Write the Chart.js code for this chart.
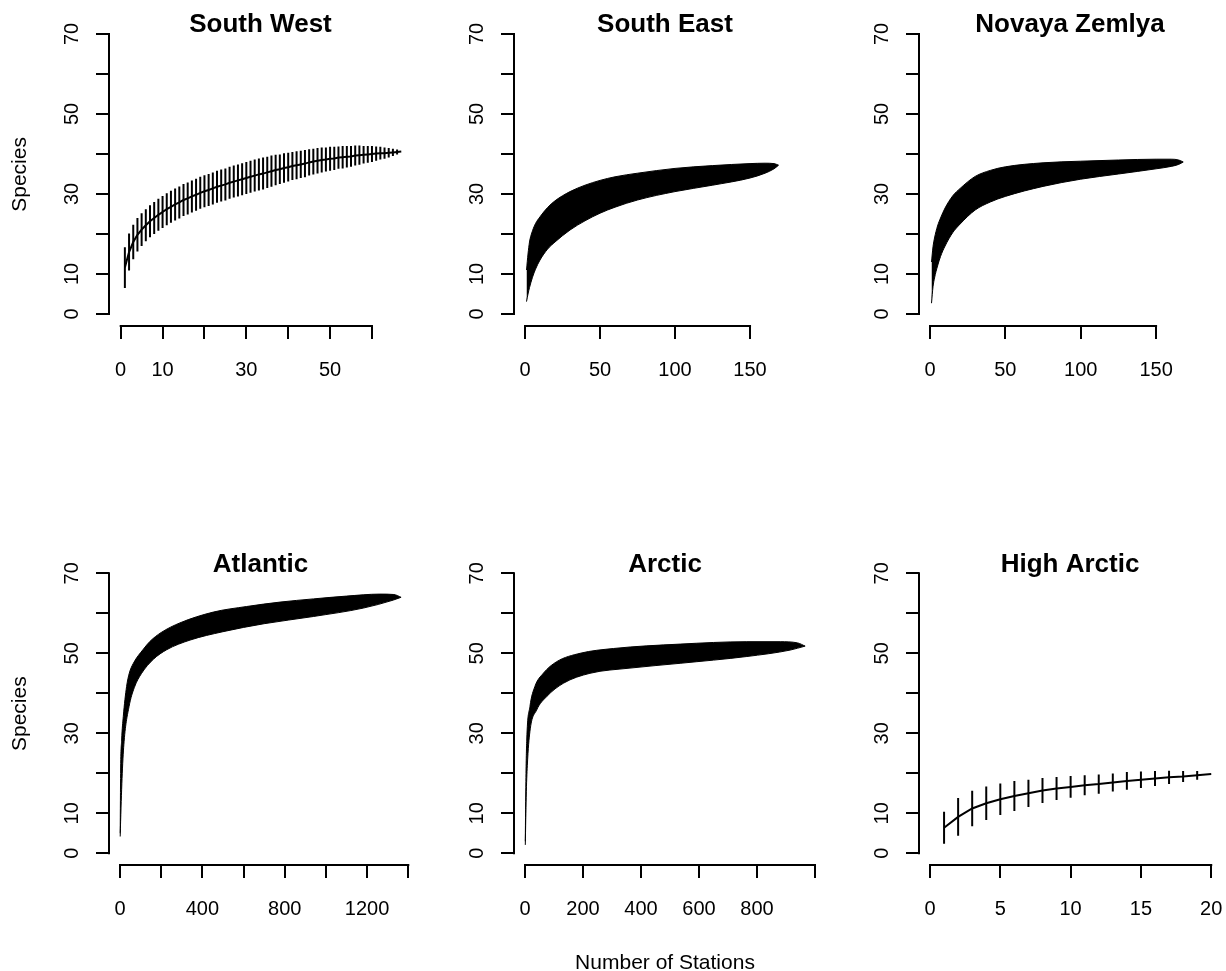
<!DOCTYPE html>
<html>
<head>
<meta charset="utf-8">
<script src="https://cdn.jsdelivr.net/npm/chart.js@4"></script>
<style>
  body { margin: 0; background: #fff; }
  #wrap { position: relative; width: 1226px; height: 971px; }
  #wrap canvas { position: absolute; left: 0; top: 0; }
</style>
</head>
<body>
<div id="wrap"></div>
<script>
// ---- tick labels ----
const yTickValues = [0, 10, 20, 30, 40, 50, 60, 70];
const yTickLabels = ['0', '10', '', '30', '', '50', '', '70'];
const swTickValues = [0, 10, 20, 30, 40, 50, 60];
const swTickLabels = ['0', '10', '', '30', '', '50', ''];
const seTickValues = [0, 50, 100, 150];
const seTickLabels = ['0', '50', '100', '150'];
const atTickValues = [0, 200, 400, 600, 800, 1000, 1200, 1400];
const atTickLabels = ['0', '', '400', '', '800', '', '1200', ''];
const arTickValues = [0, 200, 400, 600, 800, 1000];
const arTickLabels = ['0', '200', '400', '600', '800', ''];
const haTickValues = [0, 5, 10, 15, 20];
const haTickLabels = ['0', '5', '10', '15', '20'];

// ---- South West: mean and sd per station (station = index + 1) ----
const swMean = [11.6, 15.5, 18.0, 19.8, 21.1, 22.2, 23.2, 24.0, 24.8, 25.5,
  26.2, 26.8, 27.4, 27.9, 28.5, 28.9, 29.4, 29.8, 30.3, 30.7,
  31.0, 31.4, 31.8, 32.1, 32.4, 32.8, 33.1, 33.4, 33.7, 34.0,
  34.3, 34.6, 34.9, 35.1, 35.4, 35.7, 36.0, 36.2, 36.5, 36.7,
  37.0, 37.2, 37.4, 37.6, 37.9, 38.1, 38.3, 38.5, 38.6, 38.8,
  38.9, 39.1, 39.2, 39.3, 39.4, 39.6, 39.7, 39.8, 39.9, 40.0,
  40.1, 40.2, 40.2, 40.3, 40.4, 40.5, 40.6];
const swSd = [5.1, 4.6, 4.3, 4.2, 4.1, 4.0, 4.0, 4.0, 4.0, 4.0,
  4.0, 4.0, 4.0, 4.0, 4.0, 4.0, 4.0, 4.0, 4.0, 4.0,
  4.0, 4.0, 4.0, 4.0, 4.0, 4.0, 4.0, 4.0, 4.0, 4.0,
  4.0, 4.0, 4.0, 4.0, 3.9, 3.9, 3.8, 3.7, 3.7, 3.6,
  3.5, 3.5, 3.4, 3.4, 3.3, 3.2, 3.2, 3.1, 3.0, 3.0,
  2.9, 2.8, 2.8, 2.7, 2.6, 2.5, 2.4, 2.2, 2.1, 2.0,
  1.8, 1.6, 1.4, 1.2, 0.9, 0.6, 0];

// ---- High Arctic: mean and sd per station ----
const haMean = [6.4, 9.1, 11.2, 12.5, 13.5, 14.3, 15.0, 15.7, 16.2, 16.6,
  17.0, 17.3, 17.7, 18.1, 18.4, 18.7, 19.0, 19.2, 19.5, 19.8];
const haSd = [4.0, 4.7, 4.45, 4.2, 3.95, 3.75, 3.4, 3.1, 2.9, 2.7,
  2.5, 2.4, 2.25, 2.2, 2.05, 1.85, 1.65, 1.4, 1.1, 0];

// ---- dense panels: upper / lower edge of the +-sd band ----
const seUpperX = [1, 2, 3, 5, 7, 10, 15, 20, 30, 40, 50, 60, 75, 100, 125, 150, 160, 166, 169];
const seUpper = [11.0, 15.0, 18.0, 20.8, 22.6, 24.3, 26.6, 28.3, 30.6, 32.2, 33.4, 34.3, 35.2, 36.4, 37.1, 37.6, 37.7, 37.6, 37.2];
const seLowerX = [1, 2, 3, 5, 7, 10, 15, 20, 30, 40, 50, 60, 75, 100, 125, 150, 160, 166, 169];
const seLower = [3.1, 5.0, 6.6, 9.2, 11.2, 13.5, 16.2, 18.0, 21.0, 23.3, 25.2, 26.7, 28.5, 30.6, 32.2, 34.0, 35.2, 36.3, 37.2];

const nzUpperX = [1, 2, 3, 5, 7, 10, 15, 20, 30, 40, 50, 75, 100, 125, 150, 160, 165, 168];
const nzUpper = [13.0, 16.8, 19.0, 22.0, 24.0, 26.5, 29.5, 31.4, 34.4, 35.9, 36.8, 37.8, 38.2, 38.5, 38.7, 38.7, 38.5, 38.0];
const nzLowerX = [1, 2, 3, 5, 7, 10, 15, 20, 30, 40, 50, 75, 100, 125, 150, 160, 165, 168];
const nzLower = [2.7, 6.8, 9.0, 12.0, 14.4, 17.0, 20.3, 22.5, 26.0, 28.0, 29.4, 31.9, 33.7, 35.0, 36.3, 36.9, 37.4, 38.0];

const atUpperX = [1, 3, 8, 16, 32, 45, 65, 113, 146, 200, 291, 453, 615, 777, 939, 1100, 1262, 1330, 1365];
const atUpper = [5.0, 20.0, 28.3, 34.2, 41.7, 45.0, 47.5, 51.0, 53.0, 55.2, 57.6, 60.3, 61.7, 62.8, 63.6, 64.3, 64.8, 64.7, 64.0];
const atLowerX = [1, 3, 11, 20, 44, 70, 105, 162, 227, 340, 500, 700, 939, 1181, 1327, 1365];
const atLower = [4.2, 8.0, 20.0, 28.0, 36.7, 41.5, 45.0, 48.5, 50.9, 53.3, 55.4, 57.4, 59.2, 61.3, 63.3, 64.0];

const arUpperX = [1, 3, 6, 17, 34, 63, 109, 190, 305, 535, 765, 880, 940, 966];
const arUpper = [3.0, 18.0, 28.3, 36.7, 41.7, 45.0, 47.9, 50.0, 51.2, 52.3, 52.9, 52.9, 52.6, 51.8];
const arLowerX = [1, 4, 8, 17, 40, 75, 132, 224, 362, 535, 765, 914, 966];
const arLower = [2.1, 14.0, 22.0, 30.5, 35.8, 39.2, 42.5, 45.0, 46.3, 47.5, 49.2, 50.8, 51.8];

const FONT = '"Liberation Sans", Arial, sans-serif';

// R style axes, titles and axis labels drawn through the chart scales
const rAxes = {
  id: 'rAxes',
  afterDraw(chart, args, opts) {
    const ctx = chart.ctx;
    const xs = chart.scales.x, ys = chart.scales.y, area = chart.chartArea;
    ctx.save();
    ctx.strokeStyle = '#000';
    ctx.fillStyle = '#000';
    ctx.lineWidth = 2;
    ctx.lineCap = 'butt';

    // x axis
    const xv = opts.xTicks, by = Math.round(area.bottom);
    ctx.beginPath();
    ctx.moveTo(xs.getPixelForValue(xv[0]) - 1, by);
    ctx.lineTo(xs.getPixelForValue(xv[xv.length - 1]) + 1, by);
    xv.forEach(v => {
      const p = Math.round(xs.getPixelForValue(v));
      ctx.moveTo(p, by);
      ctx.lineTo(p, by + 13);
    });
    ctx.stroke();
    ctx.font = '20px ' + FONT;
    ctx.textAlign = 'center';
    ctx.textBaseline = 'middle';
    xv.forEach((v, i) => {
      if (opts.xLabels[i]) ctx.fillText(opts.xLabels[i], xs.getPixelForValue(v), by + 44);
    });

    // y axis
    const lx = Math.round(area.left);
    ctx.beginPath();
    ctx.moveTo(lx, ys.getPixelForValue(yTickValues[0]) + 1);
    ctx.lineTo(lx, ys.getPixelForValue(yTickValues[yTickValues.length - 1]) - 1);
    yTickValues.forEach(v => {
      const p = Math.round(ys.getPixelForValue(v));
      ctx.moveTo(lx, p);
      ctx.lineTo(lx - 13, p);
    });
    ctx.stroke();
    yTickValues.forEach((v, i) => {
      if (!yTickLabels[i]) return;
      ctx.save();
      ctx.translate(lx - 37, ys.getPixelForValue(v));
      ctx.rotate(-Math.PI / 2);
      ctx.fillText(yTickLabels[i], 0, 0);
      ctx.restore();
    });

    // title
    const cx = (area.left + area.right) / 2;
    ctx.font = 'bold 26px ' + FONT;
    ctx.fillText(opts.title, cx, area.top + 2.5);

    ctx.font = '21px ' + FONT;
    if (opts.ylab) {
      ctx.save();
      ctx.translate(20, (area.top + area.bottom) / 2);
      ctx.rotate(-Math.PI / 2);
      ctx.fillText(opts.ylab, 0, 0);
      ctx.restore();
    }
    if (opts.xlab) ctx.fillText(opts.xlab, cx, by + 98);
    ctx.restore();
  }
};

function pts(xs, ys) {
  return xs.map((x, i) => ({ x: x, y: ys[i] }));
}

function lineSet(data, extra) {
  return Object.assign({
    data: data,
    borderColor: '#000',
    backgroundColor: '#000',
    borderWidth: 2,
    pointRadius: 0,
    tension: 0,
    fill: false
  }, extra || {});
}

// mean line plus one vertical error bar per station
function barSets(mean, sd) {
  const bars = [];
  mean.forEach((m, i) => {
    if (!sd[i]) return;
    bars.push({ x: i + 1, y: m - sd[i] }, { x: i + 1, y: m + sd[i] }, { x: i + 1, y: null });
  });
  return [
    lineSet(bars, { spanGaps: false }),
    lineSet(mean.map((m, i) => ({ x: i + 1, y: m })))
  ];
}

// filled band between upper and lower edges
function bandSets(ux, uy, lx, ly) {
  return [
    lineSet(pts(ux, uy), { borderWidth: 1, cubicInterpolationMode: 'monotone' }),
    lineSet(pts(lx, ly), { borderWidth: 1, cubicInterpolationMode: 'monotone', fill: '-1' })
  ];
}

const panels = [
  { title: 'South West', left: 109, top: 22.8, bottom: 326, yMin: -3, xMin: -2.79, xMax: 69.56,
    xTicks: swTickValues, xLabels: swTickLabels, ylab: 'Species', sets: barSets(swMean, swSd) },
  { title: 'South East', left: 513.5, top: 22.8, bottom: 326, yMin: -3, xMin: -7.67, xMax: 194.3,
    xTicks: seTickValues, xLabels: seTickLabels, sets: bandSets(seUpperX, seUpper, seLowerX, seLower) },
  { title: 'Novaya Zemlya', left: 918.5, top: 22.8, bottom: 326, yMin: -3, xMin: -7.63, xMax: 193.4,
    xTicks: seTickValues, xLabels: seTickLabels, sets: bandSets(nzUpperX, nzUpper, nzLowerX, nzLower) },
  { title: 'Atlantic', left: 109, top: 562.1, bottom: 865.3, yMin: -3, xMin: -53.4, xMax: 1418,
    xTicks: atTickValues, xLabels: atTickLabels, ylab: 'Species', sets: bandSets(atUpperX, atUpper, atLowerX, atLower) },
  { title: 'Arctic', left: 513.5, top: 562.1, bottom: 865.3, yMin: -3, xMin: -39.7, xMax: 1005.2,
    xTicks: arTickValues, xLabels: arTickLabels, xlab: 'Number of Stations', sets: bandSets(arUpperX, arUpper, arLowerX, arLower) },
  { title: 'High Arctic', left: 918.5, top: 562.1, bottom: 865.3, yMin: -3, xMin: -0.818, xMax: 20.73,
    xTicks: haTickValues, xLabels: haTickLabels, sets: barSets(haMean, haSd) }
];

const W = 1226, H = 971, PW = 303;
const wrap = document.getElementById('wrap');

panels.forEach(p => {
  const canvas = document.createElement('canvas');
  canvas.width = W;
  canvas.height = H;
  wrap.appendChild(canvas);
  new Chart(canvas.getContext('2d'), {
    type: 'line',
    data: { datasets: p.sets },
    plugins: [rAxes],
    options: {
      responsive: false,
      animation: false,
      devicePixelRatio: 1,
      layout: { padding: { left: p.left, top: p.top, right: W - p.left - PW, bottom: H - p.bottom } },
      scales: {
        x: { type: 'linear', display: false, min: p.xMin, max: p.xMax },
        y: { type: 'linear', display: false, min: p.yMin, max: 72.8 }
      },
      plugins: {
        legend: { display: false },
        tooltip: { enabled: false },
        rAxes: { title: p.title, xTicks: p.xTicks, xLabels: p.xLabels, ylab: p.ylab || '', xlab: p.xlab || '' }
      }
    }
  });
});
</script>
</body>
</html>
